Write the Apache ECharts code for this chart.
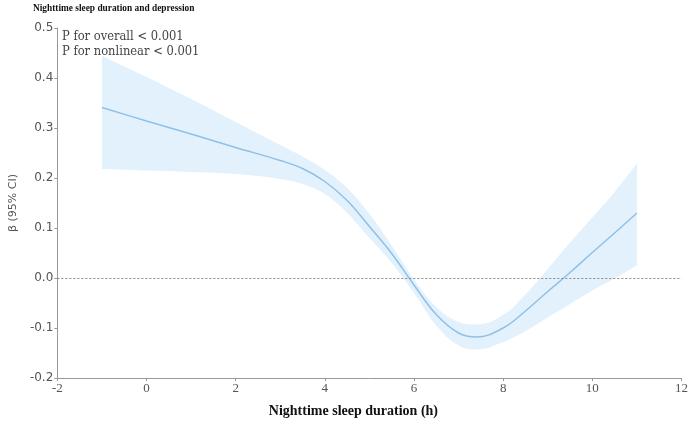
<!DOCTYPE html>
<html>
<head>
<meta charset="utf-8">
<script src="https://cdn.jsdelivr.net/npm/echarts@6/dist/echarts.min.js"></script>
<style>html,body{margin:0;padding:0;background:#fff}#c{width:691px;height:424px}</style>
</head>
<body>
<div id="c"></div>
<script>
// sleep duration (h)
const xs    = [-1, 0, 1, 2, 3, 3.5, 4, 4.5, 5, 5.5, 6, 6.5, 7, 7.4, 8, 8.5, 9, 9.5, 10, 10.5, 11];
// estimated beta
const beta  = [0.341, 0.314, 0.288, 0.261, 0.235, 0.219, 0.193, 0.155, 0.103, 0.049, -0.014, -0.073, -0.110, -0.118, -0.100, -0.066, -0.027, 0.011, 0.051, 0.090, 0.130];
// 95% CI bounds
const upper = [0.444, 0.402, 0.358, 0.312, 0.266, 0.243, 0.216, 0.180, 0.128, 0.065, -0.003, -0.058, -0.088, -0.093, -0.074, -0.033, 0.018, 0.071, 0.121, 0.172, 0.229];
const lower = [0.218, 0.215, 0.212, 0.208, 0.198, 0.188, 0.168, 0.130, 0.080, 0.030, -0.030, -0.095, -0.135, -0.143, -0.128, -0.106, -0.079, -0.052, -0.025, -0.001, 0.025];
const xTicks = [-2, 0, 2, 4, 6, 8, 10, 12];
const yTicks = [-0.2, -0.1, 0.0, 0.1, 0.2, 0.3, 0.4, 0.5];
const titleText = 'Nighttime sleep duration and depression';
const pTexts = ['P for overall < 0.001', 'P for nonlinear < 0.001'];

// stored as [y, x] so that stacking happens on the y dimension
const lowerData = xs.map((x, i) => [lower[i], x]);
const diffData = xs.map((x, i) => [+(upper[i] - lower[i]).toFixed(4), x]);
const lineData = xs.map((x, i) => [x, beta[i]]);

const chart = echarts.init(document.getElementById('c'));
chart.setOption({
  animation: false,
  backgroundColor: '#fff',
  graphic: [
    {
      type: 'text', x: 33, y: 3, scaleX: 0.85,
      style: { text: titleText, font: 'bold 11px "Liberation Serif"', fill: '#111', align: 'left', verticalAlign: 'top' }
    }
  ].concat(pTexts.map((t, i) => ({
    type: 'text', x: 62, y: 30 + i * 15,
    style: { text: t, font: '12.8px "DejaVu Serif Condensed", "DejaVu Serif"', fill: '#444', align: 'left', verticalAlign: 'top' }
  }))),
  grid: { left: 48, right: 7, top: 28, bottom: 46 },
  xAxis: {
    type: 'value', min: xTicks[0], max: xTicks[xTicks.length - 1], interval: 2,
    name: 'Nighttime sleep duration (h)', nameLocation: 'middle', nameGap: 26,
    nameTextStyle: { fontFamily: 'Liberation Serif', fontWeight: 'bold', fontSize: 14, color: '#111', padding: [0, 32, 0, 0] },
    axisLine: { onZero: false, lineStyle: { color: '#999' } },
    axisTick: { length: 3, lineStyle: { color: '#999' } },
    axisLabel: { fontFamily: 'Liberation Serif', fontSize: 13, color: '#555', margin: 4 },
    splitLine: { show: false }
  },
  yAxis: {
    type: 'value', min: yTicks[0], max: yTicks[yTicks.length - 1], interval: 0.1,
    name: 'β (95% CI)', nameLocation: 'middle', nameGap: 36,
    nameTextStyle: { fontFamily: 'DejaVu Sans', fontSize: 11, color: '#555' },
    axisLine: { show: true, onZero: false, lineStyle: { color: '#999' } },
    axisTick: { show: true, length: 3, lineStyle: { color: '#999' } },
    axisLabel: { fontFamily: 'DejaVu Sans', fontSize: 12, color: '#555', margin: 4,
      formatter: v => v.toFixed(1) },
    splitLine: { show: false }
  },
  series: [
    {
      type: 'line', data: lowerData, encode: { x: 1, y: 0 }, stack: 'ci', stackStrategy: 'all', smooth: 0.4,
      symbol: 'none', lineStyle: { opacity: 0 }, silent: true, z: 1
    },
    {
      type: 'line', data: diffData, encode: { x: 1, y: 0 }, stack: 'ci', stackStrategy: 'all', smooth: 0.4,
      symbol: 'none', lineStyle: { opacity: 0 }, areaStyle: { color: '#e3f1fc', opacity: 1 }, silent: true, z: 1
    },
    {
      type: 'line', data: lineData, smooth: 0.4, symbol: 'none',
      lineStyle: { color: '#8fc0e8', width: 1.5 }, z: 3,
      markLine: {
        silent: true, symbol: 'none', label: { show: false },
        lineStyle: { color: '#888', type: [2, 2], width: 1 },
        data: [{ yAxis: 0 }]
      }
    }
  ]
});
</script>
</body>
</html>
